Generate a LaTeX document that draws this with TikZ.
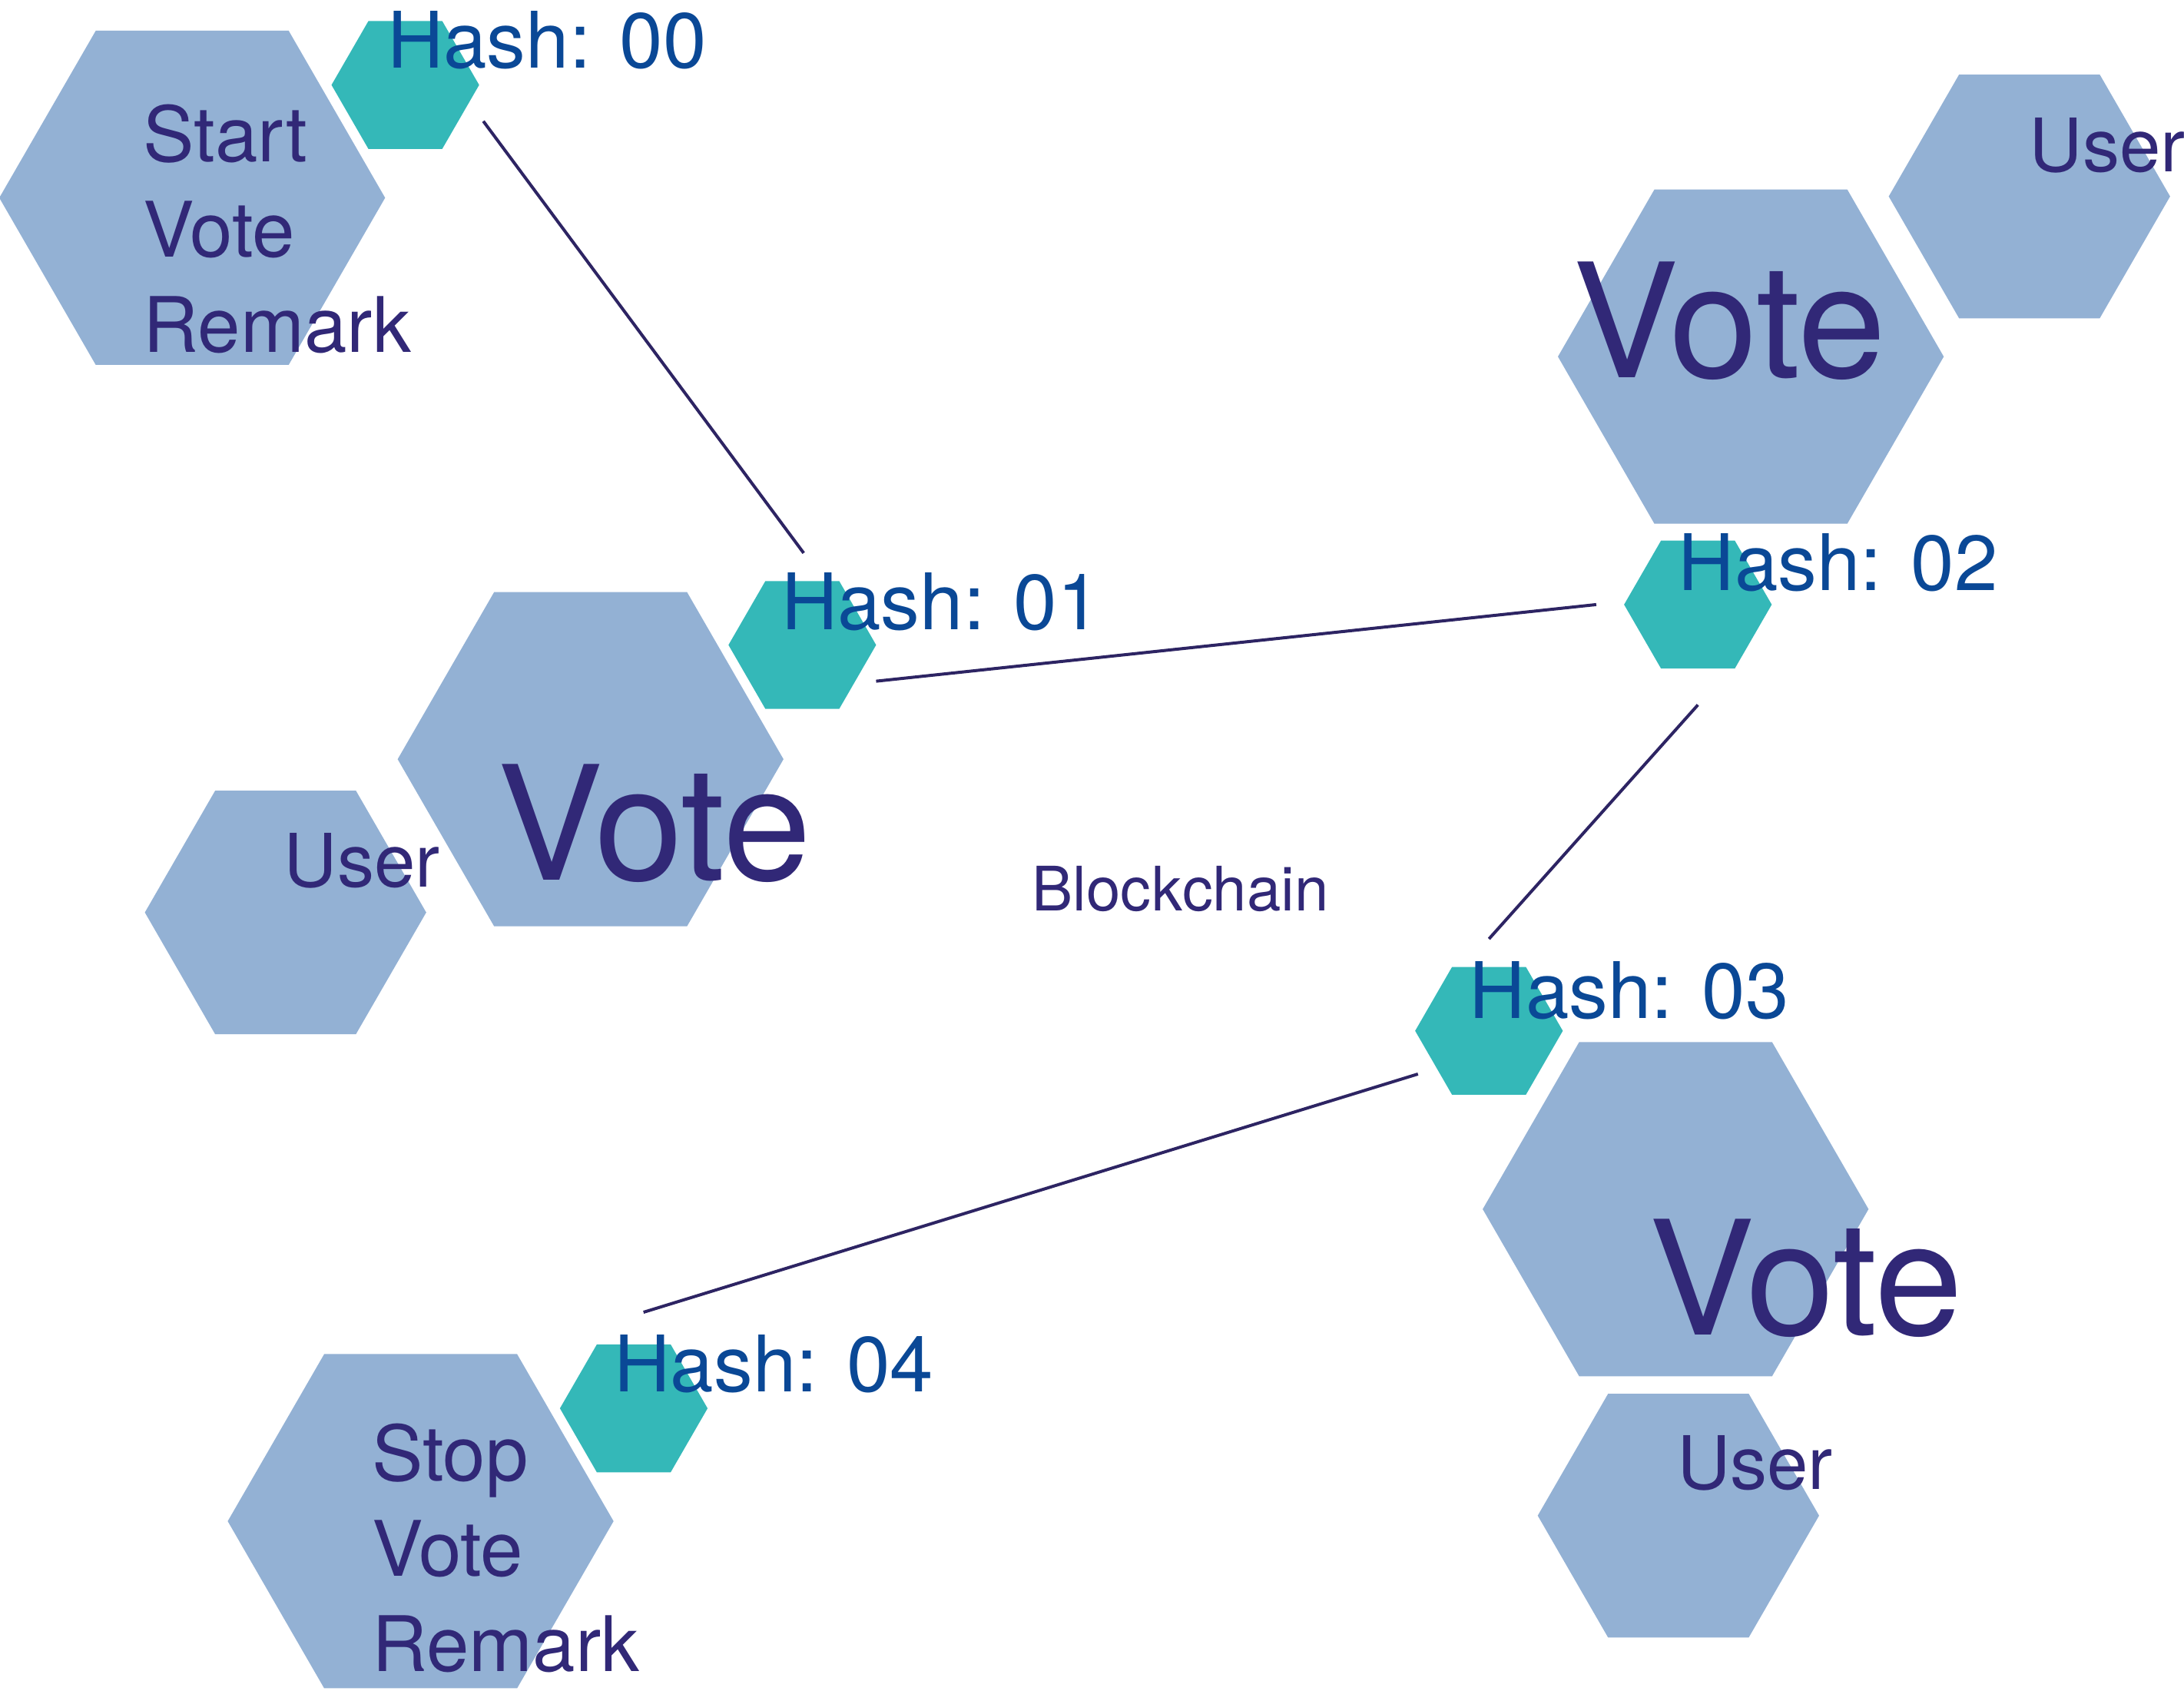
\documentclass[tikz,border=0pt]{standalone}
\usepackage{fontspec}
\setmainfont{TeX Gyre Heros}
\usetikzlibrary{shapes.geometric}
\definecolor{hexblue}{HTML}{93B1D4}
\definecolor{hexteal}{HTML}{34B8B8}
\definecolor{txtdark}{HTML}{312877}
\definecolor{hashblue}{HTML}{0A4896}
\definecolor{linkcol}{HTML}{2D2463}
\begin{document}
\begin{tikzpicture}[x=1pt,y=-1pt,
  hexshape/.style={regular polygon, regular polygon sides=6, inner sep=0pt, outer sep=0pt, draw=none},
  bighex/.style={hexshape, fill=hexblue, minimum size=277pt},
  userhex/.style={hexshape, fill=hexblue, minimum size=202pt},
  hashhex/.style={hexshape, fill=hexteal, minimum size=106pt},
  lbl/.style={anchor=base west, inner sep=0pt, outer sep=0pt},
  hashlbl/.style={lbl, text=hashblue, font=\fontsize{56}{56}\selectfont},
  votelbl/.style={lbl, text=txtdark, font=\fontsize{114}{114}\selectfont},
  userlbl/.style={lbl, text=txtdark, font=\fontsize{53}{53}\selectfont},
  stacklbl/.style={lbl, text=txtdark, font=\fontsize{55}{68.5}\selectfont},
  chainlbl/.style={lbl, text=txtdark, font=\fontsize{44}{44}\selectfont},
  link/.style={draw=linkcol, line width=2.2pt}
]
\useasboundingbox (0,0) rectangle (1568,1221);
% big hexagons
\node[bighex] (hstart) at (138,142) {};
\node[bighex] (hvoteA) at (1257,256) {};
\node[bighex] (hvoteB) at (424,545) {};
\node[bighex] (hvoteC) at (1203,868) {};
\node[bighex] (hstop) at (302,1092) {};
% user hexagons
\node[userhex] (huserA) at (1457,141) {};
\node[userhex] (huserB) at (205,655) {};
\node[userhex] (huserC) at (1205,1088) {};
% hash hexagons
\node[hashhex] (hh0) at (291,61) {};
\node[hashhex] (hh1) at (576,463) {};
\node[hashhex] (hh2) at (1219,434) {};
\node[hashhex] (hh3) at (1069,740) {};
\node[hashhex] (hh4) at (455,1011) {};
% connectors
\coordinate (c1a) at (347,87);
\coordinate (c1b) at (577,397);
\coordinate (c2a) at (629,489);
\coordinate (c2b) at (1146,434);
\coordinate (c3a) at (1219,506);
\coordinate (c3b) at (1069,674);
\coordinate (c4a) at (1018,771);
\coordinate (c4b) at (462,942);
\draw[link] (c1a) -- (c1b);
\draw[link] (c2a) -- (c2b);
\draw[link] (c3a) -- (c3b);
\draw[link] (c4a) -- (c4b);
% labels
\node[hashlbl] (th0) at (278,49) {Hash: 00};
\node[hashlbl] (th1) at (561,452) {Hash: 01};
\node[hashlbl] (th2) at (1205,424) {Hash: 02};
\node[hashlbl] (th3) at (1055,731) {Hash: 03};
\node[hashlbl] (th4) at (441,999) {Hash: 04};
\node[stacklbl] (tstart) at (103,116) {\vtop{\hbox{Start}\hbox{Vote}\hbox{Remark}}};
\node[stacklbl] (tstop) at (267,1063) {\vtop{\hbox{Stop}\hbox{Vote}\hbox{Remark}}};
\node[votelbl] (tvA) at (1129,271) {Vote};
\node[votelbl] (tvB) at (357,632) {Vote};
\node[votelbl] (tvC) at (1184,958) {Vote};
\node[userlbl] (tuA) at (1457,123) {User};
\node[userlbl] (tuB) at (204,637) {User};
\node[userlbl] (tuC) at (1204,1069) {User};
\node[chainlbl] (tchain) at (741,654) {Blockchain};
\end{tikzpicture}
\end{document}
